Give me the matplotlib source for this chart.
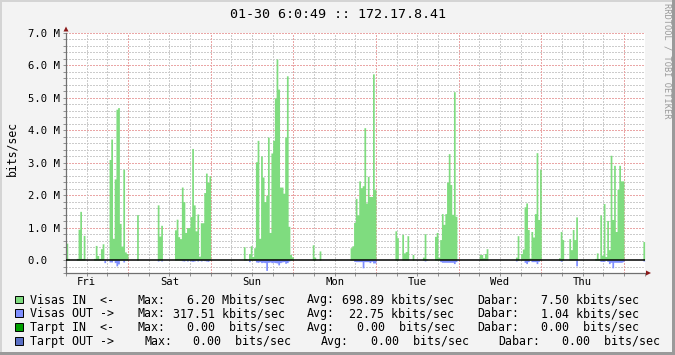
import numpy as np
import matplotlib
matplotlib.use("Agg")
import matplotlib.pyplot as plt
from matplotlib.patches import Polygon, Rectangle

# hours since Fri 06:00 (30 min steps) and Mbits/sec
visas_in_hours = [
    0.0, 0.5, 3.0, 3.5, 4.0, 4.5, 5.0, 8.0, 8.5, 9.0, 9.5, 10.0, 10.5,
    12.5, 13.0, 13.5, 14.0, 14.5, 15.0, 15.5, 16.0, 16.5, 17.0, 17.5, 20.5,
    26.5, 27.0, 27.5,
    31.5, 32.0, 32.5, 33.0, 33.5, 34.0, 34.5, 35.0, 35.5, 36.0, 36.5, 37.0,
    37.5, 38.0, 38.5, 39.0, 39.5, 40.0, 40.5, 41.0, 41.5,
    51.5, 52.0, 53.0, 53.5, 54.0, 54.5, 55.0, 55.5, 56.0, 56.5, 57.0, 57.5,
    58.0, 58.5, 59.0, 59.5, 60.0, 60.5, 61.0, 61.5, 62.0, 62.5, 63.0, 63.5,
    64.0, 64.5, 65.0, 65.5,
    71.5, 72.0, 73.5,
    82.5, 83.0, 83.5, 84.0, 84.5, 85.0, 85.5, 86.0, 86.5, 87.0, 87.5, 88.0,
    88.5, 89.0, 89.5,
    95.5, 96.0, 97.5, 98.0, 98.5, 99.0, 100.5, 103.5, 104.0, 104.5,
    107.0, 107.5, 108.0, 108.5, 109.0, 109.5, 110.0, 110.5, 111.0, 111.5,
    112.0, 112.5, 113.0,
    120.0, 120.5, 121.0, 121.5, 122.0,
    130.5, 131.0, 132.0, 132.5, 133.0, 133.5, 134.0, 134.5, 135.0, 135.5,
    136.0, 136.5, 137.0, 137.5,
    143.0, 143.5, 144.0, 146.0, 146.5, 147.0, 147.5, 148.0,
    153.5, 154.0, 154.5, 155.0, 155.5, 156.0, 156.5, 157.0, 157.5, 158.0,
    158.5, 159.0, 159.5, 160.0, 160.5, 161.0, 161.5,
    167.5,
]
visas_in_mbps = [
    0.52, 0.05, 0.05, 0.95, 1.5, 0.05, 0.76, 0.05, 0.45, 0.14, 0.05, 0.35, 0.5,
    3.1, 3.73, 0.67, 2.5, 4.65, 4.7, 1.13, 0.43, 2.8, 0.25, 0.2, 1.4,
    1.7, 0.74, 1.07,
    0.93, 1.26, 0.72, 0.66, 2.25, 1.8, 0.85, 1.0, 1.0, 1.34, 3.44, 1.7,
    0.9, 1.42, 0.12, 1.15, 1.15, 2.08, 2.68, 2.4, 2.6,
    0.41, 0.04, 0.2, 0.44, 0.11, 0.38, 3.03, 3.69, 0.67, 3.21, 2.56, 1.8,
    2.0, 3.79, 0.85, 3.3, 3.69, 5.0, 6.2, 5.27, 2.25, 2.25, 2.06, 3.79,
    5.68, 1.04, 0.17, 0.1,
    0.47, 0.09, 0.28,
    0.38, 0.44, 1.16, 1.9, 1.39, 2.44, 2.23, 2.29, 4.08, 1.76, 2.58, 1.96,
    1.96, 5.74, 2.17,
    0.9, 0.69, 0.79, 0.22, 0.26, 0.75, 0.17, 0.09, 0.81, 0.03,
    0.73, 0.85, 0.09, 0.63, 1.43, 1.1, 1.43, 2.4, 3.28, 2.33,
    1.41, 5.19, 1.35,
    0.17, 0.17, 0.07, 0.2, 0.35,
    0.09, 0.75, 0.2, 0.34, 1.64, 1.76, 0.94, 0.06, 0.88, 0.71,
    1.43, 3.31, 1.25, 2.79,
    0.07, 0.88, 0.63, 0.66, 0.32, 0.94, 0.63, 1.33,
    0.05, 0.22, 0.05, 1.39, 0.15, 1.74, 0.11, 1.22, 0.32, 3.23,
    1.25, 2.92, 0.88, 2.18, 2.92, 2.44, 2.44,
    0.57,
]

visas_out_hours = [
    11.0, 12.5, 13.0, 14.0, 14.5, 15.0, 16.5,
    26.5, 27.5, 33.5, 34.0, 35.0, 36.0, 36.5, 37.0, 38.0, 39.0, 40.0, 40.5, 41.0,
    53.0, 55.0, 55.5, 56.0, 56.5, 57.0, 57.5, 58.0, 58.5, 59.0, 59.5, 60.0,
    60.5, 61.0, 61.5, 62.0, 62.5, 63.0, 63.5, 64.0, 64.5,
    83.5, 84.0, 84.5, 85.0, 85.5, 86.0, 86.5, 87.0, 87.5, 88.0, 88.5, 89.0, 89.5,
    104.0, 108.5, 109.0, 109.5, 110.0, 110.5, 111.0, 111.5, 112.0, 112.5, 113.0,
    130.5, 133.0, 133.5, 134.0, 135.0, 135.5, 136.0, 136.5, 137.0,
    143.5, 148.0, 155.0, 155.5, 156.0, 157.0, 157.5, 158.0, 158.5, 159.0,
    159.5, 160.0, 160.5, 161.0, 161.5, 167.5,
]
visas_out_mbps = [
    0.08, 0.06, 0.06, 0.08, 0.18, 0.12, 0.06,
    0.03, 0.03, 0.02, 0.03, 0.03, 0.03, 0.04, 0.03, 0.03, 0.03, 0.02, 0.03, 0.04,
    0.05, 0.06, 0.07, 0.05, 0.08, 0.07, 0.08, 0.32, 0.07, 0.06, 0.08, 0.07,
    0.08, 0.09, 0.15, 0.08, 0.06, 0.05, 0.1, 0.08, 0.03,
    0.04, 0.05, 0.05, 0.05, 0.05, 0.24, 0.05, 0.05, 0.05, 0.08, 0.04, 0.09, 0.09,
    0.03, 0.05, 0.07, 0.07, 0.07, 0.07, 0.07, 0.07, 0.07, 0.11, 0.05,
    0.03, 0.07, 0.11, 0.05, 0.05, 0.05, 0.05, 0.11, 0.04,
    0.04, 0.18, 0.04, 0.04, 0.04, 0.04, 0.11, 0.07, 0.24, 0.07,
    0.07, 0.07, 0.07, 0.07, 0.05, 0.03,
]

day_labels = ["Fri", "Sat", "Sun", "Mon", "Tue", "Wed", "Thu"]
day_noon_hours = [6, 30, 54, 78, 102, 126, 150]
midnight_hours = [18, 42, 66, 90, 114, 138, 162]
y_ticks = [0, 1, 2, 3, 4, 5, 6, 7]
y_tick_labels = ["0.0  ", "1.0 M", "2.0 M", "3.0 M", "4.0 M", "5.0 M", "6.0 M", "7.0 M"]

title = "01-30 6:0:49 :: 172.17.8.41"
legend_names = ["Visas IN  <-", "Visas OUT ->", "Tarpt IN  <-", "Tarpt OUT ->"]
legend_max = ["6.20 Mbits/sec", "317.51 kbits/sec", "0.00  bits/sec", "0.00  bits/sec"]
legend_avg = ["698.89 kbits/sec", "22.75 kbits/sec", "0.00  bits/sec", "0.00  bits/sec"]
legend_dabar = ["7.50 kbits/sec", "1.04 kbits/sec", "0.00  bits/sec", "0.00  bits/sec"]
legend_colors = ["#7fdc7f", "#7f8fff", "#00a000", "#5a6fc4"]

MONO = "DejaVu Sans Mono"
W, H = 675, 355
STEP = 0.5

# full 30-minute series, zero where nothing was recorded
edges = np.arange(0, 168 + STEP, STEP)
series_in = np.zeros(len(edges))
series_out = np.zeros(len(edges))
for h, v in zip(visas_in_hours, visas_in_mbps):
    series_in[int(round(h / STEP))] = v
for h, v in zip(visas_out_hours, visas_out_mbps):
    series_out[int(round(h / STEP))] = -v

fig = plt.figure(figsize=(W / 100, H / 100), dpi=100, facecolor="#f3f3f3")

# plot area in pixels
left, right, top, bottom = 66, 644.6, 33, 273
ax = fig.add_axes([left / W, (H - bottom) / H, (right - left) / W, (bottom - top) / H])
ax.set_facecolor("white")
ax.set_xlim(0, 168)
ax.set_ylim(-0.4, 7.0)

# grid (drawn under the areas, like rrdtool)
minor_c, major_c = "#cccccc", "#eaa6a6"
dots = (0, (1.5, 1.5))
for yv in np.arange(-0.4, 7.01, 0.2):
    if abs(yv - round(yv)) < 1e-6:
        continue
    ax.axhline(yv, color=minor_c, lw=0.72, ls=dots, zorder=0, antialiased=False)
for yv in range(1, 8):
    ax.axhline(yv, color=major_c, lw=0.72, ls=dots, zorder=0, antialiased=False)
for xv in range(6, 168, 6):
    c = major_c if xv in midnight_hours else minor_c
    ax.axvline(xv, color=c, lw=0.72, ls=dots, zorder=0, antialiased=False)

ax.fill_between(edges, series_in, 0, step="post", color=legend_colors[0],
                linewidth=0, zorder=2)
ax.fill_between(edges, series_out, 0, step="post", color=legend_colors[1],
                linewidth=0, zorder=2)
ax.axhline(0, color="black", lw=1.1, zorder=3)

for s in ["top", "right"]:
    ax.spines[s].set_visible(False)
for s in ["left", "bottom"]:
    ax.spines[s].set_color("#707070")
    ax.spines[s].set_linewidth(0.9)

ax.set_yticks(y_ticks)
ax.set_yticklabels(y_tick_labels, fontfamily=MONO, fontsize=7.6)
ax.set_yticks(np.arange(-0.4, 7.01, 0.2), minor=True)
ax.set_xticks(day_noon_hours)
ax.set_xticklabels(day_labels, fontfamily=MONO, fontsize=7.6)
ax.set_xticks(range(0, 169, 6), minor=True)
ax.tick_params(axis="y", which="both", length=2, width=0.6, color="#808080", pad=2.4)
ax.tick_params(axis="x", which="both", length=2, width=0.6, color="#808080", pad=1.0)

# overlay for texts and frame
ov = fig.add_axes([0, 0, 1, 1], zorder=5)
ov.set_xlim(0, W)
ov.set_ylim(H, 0)
ov.axis("off")

ov.add_patch(Rectangle((0, 0), W, 1.5, color="#d4d4d4", lw=0))
ov.add_patch(Rectangle((0, 0), 1.5, H, color="#d4d4d4", lw=0))
ov.add_patch(Rectangle((W - 3, 0), 3, H, color="#9a9a9a", lw=0))
ov.add_patch(Rectangle((0, H - 3), W, 3, color="#9a9a9a", lw=0))

ov.add_patch(Polygon([(63.5, 31.5), (68.5, 31.5), (66, 26.5)], closed=True,
                     color="#8b1a1a", lw=0))
ov.add_patch(Polygon([(646, 270.5), (646, 275.5), (651, 273)], closed=True,
                     color="#8b1a1a", lw=0))

ov.text(338, 18.3, title, fontfamily=MONO, fontsize=9.6, ha="center", va="baseline")
ov.text(11.5, 149, "bits/sec", fontfamily=MONO, fontsize=8.3, rotation=90,
        ha="center", va="center")
ov.text(667, 61, "RRDTOOL / TOBI OETIKER", fontfamily=MONO, fontsize=6.2,
        rotation=270, ha="center", va="center", color="#9a9a9a")

baselines = [303.5, 317.2, 331.0, 345.0]
max_x = [186.7, 172.7, 186.7, 193.3]
avg_x = [342.3, 349.3, 356.7, 370.7]
dabar_x = [540.7, 540.7, 540.7, 561.7]
for i in range(4):
    yb = baselines[i]
    shift = 7 if i == 3 else 0
    ov.add_patch(Rectangle((15, yb - 8), 7.5, 7.5, facecolor=legend_colors[i],
                           edgecolor="black", lw=0.7))
    fs = 8.37
    ov.text(30.5, yb, legend_names[i], fontfamily=MONO, fontsize=fs, va="baseline")
    ov.text(137.8 + shift, yb, "Max:", fontfamily=MONO, fontsize=fs, va="baseline")
    ov.text(max_x[i], yb, legend_max[i], fontfamily=MONO, fontsize=fs, va="baseline")
    ov.text(306.8 + 2 * shift, yb, "Avg:", fontfamily=MONO, fontsize=fs, va="baseline")
    ov.text(avg_x[i], yb, legend_avg[i], fontfamily=MONO, fontsize=fs, va="baseline")
    ov.text(477.2 + 3 * shift, yb, "Dabar:", fontfamily=MONO, fontsize=fs, va="baseline")
    ov.text(dabar_x[i], yb, legend_dabar[i], fontfamily=MONO, fontsize=fs, va="baseline")

fig.savefig("out.png", dpi=100, facecolor=fig.get_facecolor())
